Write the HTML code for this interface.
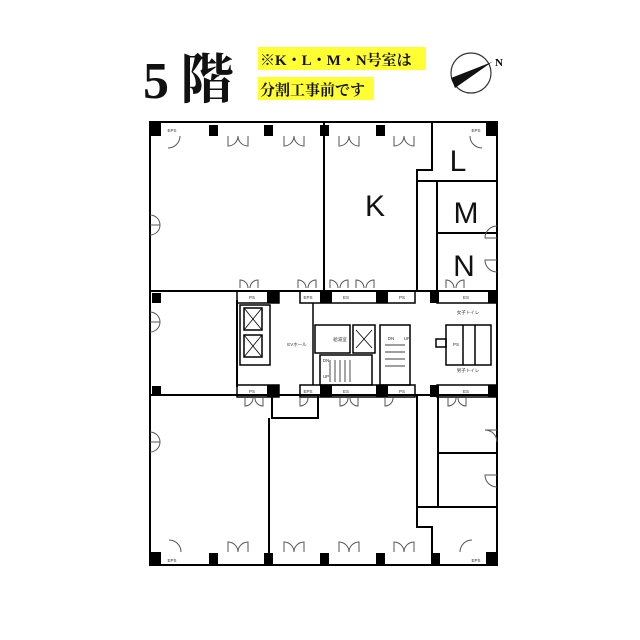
<!DOCTYPE html>
<html><head><meta charset="utf-8"><style>
html,body{margin:0;padding:0;background:#fff;}
svg{display:block;}
</style></head><body>
<svg width="640" height="640" viewBox="0 0 640 640" xmlns="http://www.w3.org/2000/svg">
<rect width="640" height="640" fill="#fff"/>
<!-- Header -->
<text x="143" y="98" font-family="Liberation Serif, Noto Serif CJK SC, serif" font-size="52" font-weight="bold" fill="#111">5</text>
<text x="180" y="98" font-family="Liberation Serif, Noto Serif CJK SC, serif" font-size="54" font-weight="bold" fill="#111">階</text>
<rect x="258" y="47" width="168" height="23" fill="#ffff33"/>
<rect x="258" y="77" width="116" height="23" fill="#ffff33"/>
<text x="260" y="65" font-family="Liberation Serif, Noto Serif CJK SC, serif" font-size="15" font-weight="bold" fill="#111">※K・L・M・N号室は</text>
<text x="260" y="95" font-family="Liberation Serif, Noto Serif CJK SC, serif" font-size="15" font-weight="bold" fill="#111">分割工事前です</text>
<circle cx="471" cy="73" r="20" fill="#fff" stroke="#333" stroke-width="1.2"/>
<polygon points="451,78 492,62 455,88" fill="#111"/>
<text x="495" y="66" font-family="Liberation Serif, serif" font-size="11" font-weight="bold">N</text>

<g fill="none" stroke="#000" stroke-width="2">
<polyline points="150,135 150,565 497,565 497,122 150,122 150,135"/>
<line x1="324" y1="122" x2="324" y2="291"/>
<polyline points="432,122 432,170 417,170 417,291"/>
<line x1="417" y1="181" x2="497" y2="181"/>
<line x1="437" y1="181" x2="437" y2="291"/>
<line x1="437" y1="233" x2="497" y2="233"/>
<line x1="150" y1="291" x2="497" y2="291"/>
<line x1="150" y1="395" x2="497" y2="395"/>
<line x1="237" y1="300" x2="237" y2="387"/>
<line x1="269" y1="418" x2="269" y2="565"/>
<polyline points="272,395 272,418 318,418 318,395"/>
<polyline points="417,395 417,527 432,527 432,565"/>
<line x1="438" y1="395" x2="438" y2="507"/>
<line x1="438" y1="453" x2="497" y2="453"/>
<line x1="417" y1="507" x2="497" y2="507"/>
</g>
<g fill="none" stroke="#000" stroke-width="1.5">
<rect x="237" y="291" width="42" height="12"/>
<rect x="237" y="385" width="42" height="12"/>
<rect x="300" y="291" width="115" height="12"/>
<rect x="300" y="385" width="115" height="12"/>
<rect x="437" y="291" width="60" height="12"/>
<rect x="437" y="385" width="60" height="12"/>
<rect x="240" y="305" width="30" height="60"/>
<rect x="244" y="308" width="18" height="22"/>
<rect x="244" y="335" width="18" height="22"/>
<path d="M244,308 L262,330 M262,308 L244,330 M244,335 L262,357 M262,335 L244,357" stroke-width="0.8"/>
<line x1="313" y1="303" x2="313" y2="385"/>
<rect x="315" y="325" width="35" height="28"/>
<rect x="353" y="325" width="22" height="28"/>
<path d="M356,330 L372,348 M372,330 L356,348" stroke-width="0.8"/>
<rect x="380" y="325" width="30" height="60"/>
<rect x="320" y="355" width="52" height="30"/>
<path d="M330,360 L330,382 M335,360 L335,382 M340,360 L340,382 M345,360 L345,382 M350,360 L350,382 M385,345 L405,345 M385,352 L405,352 M385,359 L405,359 M385,366 L405,366" stroke-width="0.7"/>
<rect x="446" y="325" width="45" height="40"/>
<line x1="463" y1="325" x2="463" y2="365"/>
<line x1="475" y1="325" x2="475" y2="365"/>
<rect x="436" y="339" width="10" height="8"/>
</g>
<g fill="#000">
<rect x="150" y="122" width="11" height="14"/><rect x="486" y="122" width="11" height="14"/>
<rect x="209" y="125" width="9" height="11"/><rect x="264" y="125" width="9" height="11"/>
<rect x="320" y="125" width="9" height="11"/><rect x="376" y="125" width="9" height="11"/>
<rect x="150" y="552" width="11" height="13"/><rect x="486" y="552" width="11" height="13"/>
<rect x="209" y="553" width="9" height="11"/><rect x="264" y="553" width="9" height="11"/>
<rect x="320" y="553" width="9" height="11"/><rect x="376" y="553" width="9" height="11"/>
<rect x="431" y="553" width="9" height="11"/>
<rect x="152" y="293" width="9" height="10"/><rect x="152" y="386" width="9" height="10"/>
<rect x="267" y="291" width="12" height="12"/><rect x="267" y="385" width="12" height="12"/>
<rect x="320" y="291" width="12" height="12"/><rect x="320" y="385" width="12" height="12"/>
<rect x="376" y="291" width="12" height="12"/><rect x="376" y="385" width="12" height="12"/>
<rect x="430" y="291" width="9" height="12"/><rect x="430" y="385" width="9" height="12"/>
<rect x="488" y="291" width="9" height="12"/><rect x="488" y="385" width="9" height="12"/>
</g>
<g fill="none" stroke="#555" stroke-width="1">
<path d="M228,136 v10 a10,10 0 0 0 10,-10 M248,136 v10 a10,10 0 0 1 -10,-10"/>
<path d="M284,136 v10 a10,10 0 0 0 10,-10 M304,136 v10 a10,10 0 0 1 -10,-10"/>
<path d="M339,136 v10 a10,10 0 0 0 10,-10 M359,136 v10 a10,10 0 0 1 -10,-10"/>
<path d="M394,136 v10 a10,10 0 0 0 10,-10 M414,136 v10 a10,10 0 0 1 -10,-10"/>
<path d="M228,552 v-10 a10,10 0 0 1 10,10 M248,552 v-10 a10,10 0 0 0 -10,10"/>
<path d="M284,552 v-10 a10,10 0 0 1 10,10 M304,552 v-10 a10,10 0 0 0 -10,10"/>
<path d="M339,552 v-10 a10,10 0 0 1 10,10 M359,552 v-10 a10,10 0 0 0 -10,10"/>
<path d="M394,552 v-10 a10,10 0 0 1 10,10 M414,552 v-10 a10,10 0 0 0 -10,10"/>
<path d="M180,136 a12,12 0 0 1 -12,12 M470,136 a12,12 0 0 0 12,12"/>
<path d="M181,552 a12,12 0 0 0 -12,-12 M460,552 a12,12 0 0 1 12,-12"/>
<path d="M150,225 h10 a10,10 0 0 0 -10,-10 M150,225 h10 a10,10 0 0 1 -10,10"/>
<path d="M150,442 h10 a10,10 0 0 0 -10,-10 M150,442 h10 a10,10 0 0 1 -10,10"/>
<path d="M150,322 h10 a10,10 0 0 0 -10,-10 M150,322 h10 a10,10 0 0 1 -10,10"/>
<path d="M497,238 h-12 a12,12 0 0 1 12,-12 M497,260 h-12 a12,12 0 0 0 12,12"/>
<path d="M497,430 h-12 a12,12 0 0 1 12,12 M497,475 h-12 a12,12 0 0 0 12,12"/>
<path d="M240,288 v-8 a8,8 0 0 1 8,8 M258,288 v-8 a8,8 0 0 0 -8,8 M298,288 v-8 a8,8 0 0 1 8,8 M316,288 v-8 a8,8 0 0 0 -8,8 M330,288 v-8 a8,8 0 0 1 8,8 M348,288 v-8 a8,8 0 0 0 -8,8 M356,288 v-8 a8,8 0 0 1 8,8 M374,288 v-8 a8,8 0 0 0 -8,8 M446,288 v-8 a8,8 0 0 1 8,8 M464,288 v-8 a8,8 0 0 0 -8,8"/>
<path d="M245,398 v8 a8,8 0 0 0 8,-8 M263,398 v8 a8,8 0 0 1 -8,-8 M300,398 v8 a8,8 0 0 0 8,-8 M340,398 v8 a8,8 0 0 0 8,-8 M358,398 v8 a8,8 0 0 1 -8,-8 M385,398 v8 a8,8 0 0 0 8,-8 M448,398 v8 a8,8 0 0 0 8,-8 M466,398 v8 a8,8 0 0 1 -8,-8"/>
</g>
<g font-family="Liberation Sans, Noto Sans CJK JP, sans-serif" font-size="4.5" fill="#333" text-anchor="middle">
<text x="172" y="132">EPS</text><text x="476" y="132">EPS</text>
<text x="172" y="562">EPS</text><text x="476" y="562">EPS</text>
<text x="252" y="299">PS</text><text x="252" y="393">PS</text>
<text x="308" y="299">EPS</text><text x="346" y="299">ES</text><text x="402" y="299">PS</text>
<text x="308" y="393">EPS</text><text x="346" y="393">ES</text><text x="402" y="393">PS</text>
<text x="466" y="299">ES</text><text x="466" y="393">ES</text>
<text x="297" y="346">EVホール</text>
<text x="340" y="341">給湯室</text>
<text x="468" y="314">女子トイレ</text><text x="468" y="372">男子トイレ</text>
<text x="456" y="346">PS</text>
<text x="326" y="362">DN</text><text x="326" y="378">UP</text>
<text x="391" y="340">DN</text><text x="407" y="340">UP</text>
</g>
<g font-family="Liberation Sans, sans-serif" font-size="30" fill="#111" text-anchor="middle">
<text x="375" y="216">K</text>
<text x="458" y="171">L</text>
<text x="466" y="223">M</text>
<text x="464" y="276">N</text>
</g>
</svg>
</body></html>
